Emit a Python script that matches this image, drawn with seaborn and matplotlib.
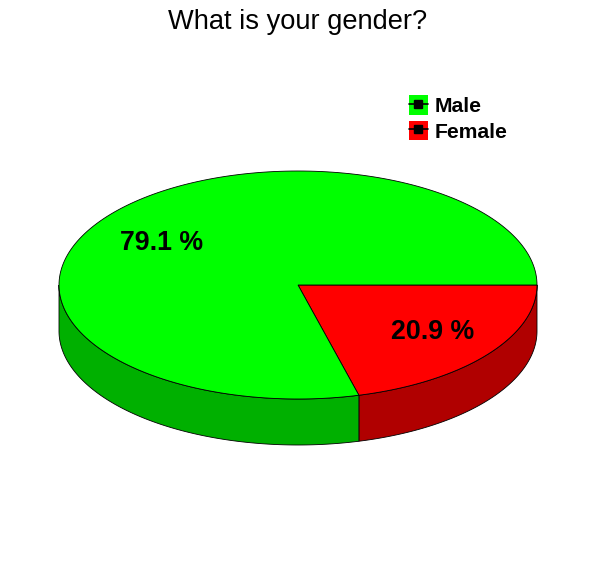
import numpy as np
import matplotlib
matplotlib.use("Agg")
import matplotlib.pyplot as plt
import seaborn as sns
from matplotlib.patches import Polygon, Patch
from matplotlib.lines import Line2D

# Data
labels = ["Male", "Female"]
shares = [79.1, 20.9]
top_colors = ["#00FF00", "#FF0000"]
side_colors = ["#00B000", "#B00000"]

sns.set_style("white")
plt.rcParams["font.family"] = ["Liberation Sans", "DejaVu Sans"]
plt.rcParams["text.color"] = "black"

fig = plt.figure(figsize=(5.96, 5.72), dpi=100)
ax = fig.add_axes([0, 0, 1, 1])
ax.set_xlim(0, 596)
ax.set_ylim(572, 0)
ax.axis("off")

cx, cy, rx, ry, depth = 298, 285, 239, 114, 46


def rim(a0, a1, n=200):
    t = np.radians(np.linspace(a0, a1, n))
    return cx + rx * np.cos(t), cy - ry * np.sin(t)


# slices go clockwise from 3 o'clock, last slice first
order = [1, 0]
start = 0.0
spans = {}
for i in order:
    end = start - shares[i] / 100 * 360
    spans[i] = (start, end)
    start = end

# sides (front half only)
for i in order:
    a0, a1 = spans[i]
    lo, hi = max(min(a0, a1), -180), min(max(a0, a1), 0)
    if lo >= hi:
        continue
    x, y = rim(hi, lo)
    pts = np.column_stack([np.r_[x, x[::-1]], np.r_[y, y[::-1] + depth]])
    ax.add_patch(Polygon(pts, closed=True, facecolor=side_colors[i],
                         edgecolor="black", linewidth=0.6))

# top faces
for i in order:
    a0, a1 = spans[i]
    x, y = rim(a0, a1)
    pts = np.column_stack([np.r_[cx, x], np.r_[cy, y]])
    ax.add_patch(Polygon(pts, closed=True, facecolor=top_colors[i],
                         edgecolor="black", linewidth=0.6))

# percentage labels
label_pos = {0: (162, 243), 1: (433, 332)}
for i in order:
    ax.text(*label_pos[i], f"{shares[i]:.1f} %", fontsize=19.3, fontweight="bold",
            ha="center", va="center", color="black")

fig.text(0.5, 0.962, "What is your gender?", ha="center", va="center",
         fontsize=19.6, color="black")

handles = [(Patch(facecolor=c, edgecolor="none"),
            Line2D([], [], color="black", marker="s", markersize=6, linewidth=1.2))
           for c in top_colors]
leg = fig.legend(handles, labels, loc="upper left", bbox_to_anchor=(0.672, 0.848),
                 frameon=False, handlelength=0.9, handleheight=1.05,
                 handletextpad=0.3, labelspacing=0.2, borderaxespad=0,
                 prop={"weight": "bold", "size": 15.2})
for t in leg.get_texts():
    t.set_color("black")

fig.savefig("out.png", dpi=100, facecolor="white")
